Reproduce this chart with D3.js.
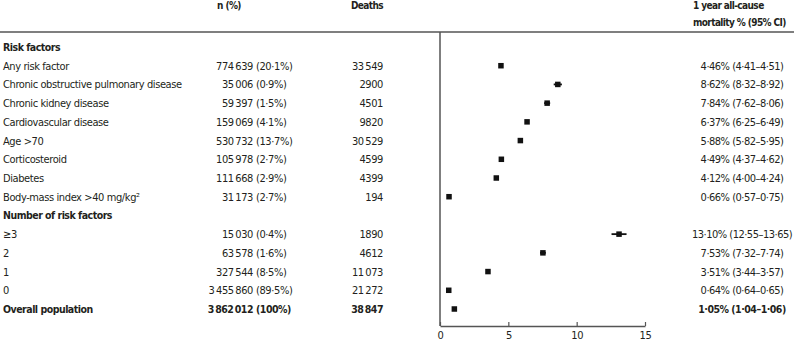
<!DOCTYPE html>
<html lang="en">
<head>
    <meta charset="UTF-8">
    <title>1 year all-cause mortality by risk factor</title>
    <script src="https://d3js.org/d3.v7.min.js"></script>
    <style>
        body { margin: 0; background: #fff; }
        text { font-family: "DejaVu Sans Condensed", "DejaVu Sans", sans-serif; fill: #231f20; font-size: 11px; letter-spacing: -0.4px; }
        .bold, .bold text { font-weight: bold; font-size: 10.5px; letter-spacing: -0.5px; }
        .head { font-weight: bold; font-size: 10px; letter-spacing: -0.6px; }
        .ci-text { letter-spacing: -0.5px; }
    </style>
</head>
<body>
    <script>
        // Row labels (section headers have no values)
        const rowLabels = ["Risk factors", "Any risk factor", "Chronic obstructive pulmonary disease",
            "Chronic kidney disease", "Cardiovascular disease", "Age >70", "Corticosteroid", "Diabetes",
            "Body-mass index >40 mg/kg\u00b2", "Number of risk factors", "\u22653", "2", "1", "0", "Overall population"];
        const boldRows = ["Risk factors", "Number of risk factors", "Overall population"];

        // n and % (null for section headers)
        const nCounts = [null, "774\u2009639", "35\u2009006", "59\u2009397", "159\u2009069", "530\u2009732", "105\u2009978",
            "111\u2009668", "31\u2009173", null, "15\u2009030", "63\u2009578", "327\u2009544", "3\u2009455\u2009860", "3\u2009862\u2009012"];
        const nPercents = [null, "20\u00b71", "0\u00b79", "1\u00b75", "4\u00b71", "13\u00b77", "2\u00b77",
            "2\u00b79", "2\u00b77", null, "0\u00b74", "1\u00b76", "8\u00b75", "89\u00b75", "100"];
        const deaths = [null, "33\u2009549", "2900", "4501", "9820", "30\u2009529", "4599",
            "4399", "194", null, "1890", "4612", "11\u2009073", "21\u2009272", "38\u2009847"];

        // 1 year all-cause mortality % with 95% CI
        const mortality = [null, 4.46, 8.62, 7.84, 6.37, 5.88, 4.49, 4.12, 0.66, null, 13.10, 7.53, 3.51, 0.64, 1.05];
        const ciLow = [null, 4.41, 8.32, 7.62, 6.25, 5.82, 4.37, 4.00, 0.57, null, 12.55, 7.32, 3.44, 0.64, 1.04];
        const ciHigh = [null, 4.51, 8.92, 8.06, 6.49, 5.95, 4.62, 4.24, 0.75, null, 13.65, 7.74, 3.57, 0.65, 1.06];

        const xTicks = [0, 5, 10, 15];

        const width = 794, height = 345;
        const svg = d3.select("body").append("svg")
            .attr("width", width)
            .attr("height", height);

        const dec = d3.format(".2f");
        const fmt = v => dec(v).replace(".", "\u00b7");

        const rows = rowLabels.map((label, i) => ({
            label, i,
            n: nCounts[i], pct: nPercents[i], deaths: deaths[i],
            est: mortality[i], lo: ciLow[i], hi: ciHigh[i],
            bold: boldRows.includes(label)
        }));

        const y = d3.scalePoint().domain(rows.map(d => d.i)).range([47, 309]);
        const x = d3.scaleLinear().domain([0, 15]).range([440, 645]);

        // headers
        svg.append("text").attr("class", "head").attr("x", 229).attr("y", 9)
            .attr("text-anchor", "middle").text("n (%)");
        svg.append("text").attr("class", "head").attr("x", 383).attr("y", 9)
            .attr("text-anchor", "end").text("Deaths");
        svg.append("text").attr("class", "head").attr("x", 693).attr("y", 9)
            .text("1 year all-cause");
        svg.append("text").attr("class", "head").attr("x", 693).attr("y", 26)
            .text("mortality % (95% CI)");

        // rule under header
        svg.append("line").attr("x1", 0).attr("x2", width).attr("y1", 32).attr("y2", 32)
            .attr("stroke", "#555").attr("stroke-width", 1.5);

        // left-hand table
        const row = svg.selectAll("g.row").data(rows).enter().append("g")
            .attr("class", d => d.bold ? "row bold" : "row")
            .attr("transform", d => `translate(0,${y(d.i) + 4})`);

        row.append("text").attr("x", 3).text(d => d.label);

        const withVals = row.filter(d => d.n !== null);
        withVals.append("text").attr("x", 253).attr("text-anchor", "end")
            .text(d => d.n);
        withVals.append("text").attr("x", 256)
            .text(d => `(${d.pct}%)`);
        withVals.append("text").attr("x", 383).attr("text-anchor", "end")
            .text(d => d.deaths);
        // mortality column is centred
        withVals.append("text").attr("class", "ci-text").attr("x", 742).attr("text-anchor", "middle")
            .text(d => `${fmt(d.est)}% (${fmt(d.lo)}\u2013${fmt(d.hi)})`);

        // forest plot
        const axisY = 326;
        svg.append("line").attr("x1", x(0)).attr("x2", x(0)).attr("y1", 32).attr("y2", axisY)
            .attr("stroke", "#555").attr("stroke-width", 1.5);

        const axis = svg.append("g").attr("transform", `translate(0,${axisY})`)
            .call(d3.axisBottom(x).tickValues(xTicks).tickSizeInner(-4).tickSizeOuter(0).tickPadding(5));
        axis.attr("font-family", null).attr("font-size", null);
        axis.select(".domain").attr("stroke", "#555").attr("stroke-width", 1.5);
        axis.selectAll(".tick line").attr("stroke", "#555").attr("stroke-width", 1.2);
        axis.selectAll(".tick text").attr("fill", null);

        const pts = rows.filter(d => d.est !== null);
        svg.selectAll("line.ci").data(pts).enter().append("line")
            .attr("class", "ci")
            .attr("x1", d => x(d.lo)).attr("x2", d => x(d.hi))
            .attr("y1", d => y(d.i)).attr("y2", d => y(d.i))
            .attr("stroke", "#111").attr("stroke-width", 1.8);
        const sq = 5.5;
        svg.selectAll("rect.est").data(pts).enter().append("rect")
            .attr("class", "est")
            .attr("x", d => x(d.est) - sq / 2).attr("y", d => y(d.i) - sq / 2)
            .attr("width", sq).attr("height", sq)
            .attr("fill", "#111");
    </script>
</body>
</html>
